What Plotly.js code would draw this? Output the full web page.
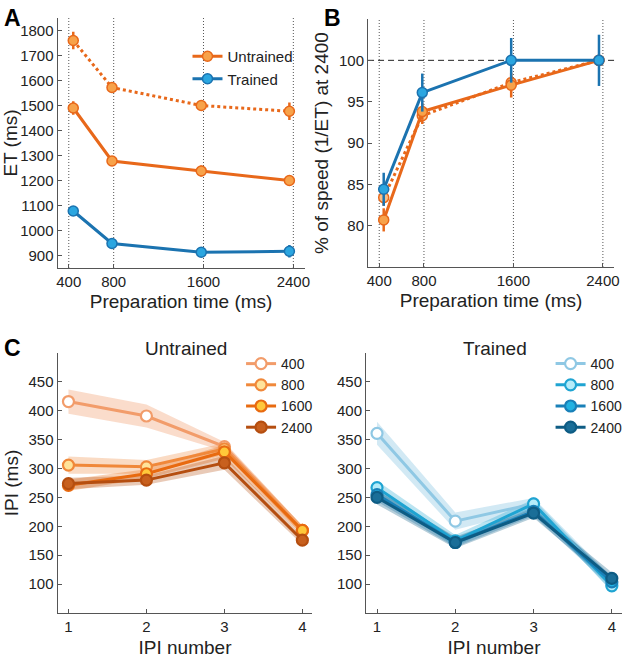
<!DOCTYPE html>
<html>
<head>
<meta charset="utf-8">
<script src="https://cdn.plot.ly/plotly-3.0.1.min.js"></script>
<style>html,body{margin:0;padding:0;background:#fff;}#plot{width:628px;height:661px;}</style>
</head>
<body>
<div id="plot"></div>
<script>
// ---------- DATA ----------
const prepTicks = [400, 800, 1600, 2400];
const prepTimeActual = [440, 785, 1580, 2365];

const etUntrainedDotted = [1760, 1572, 1500, 1477];
const etUntrainedDottedErr = [35, 15, 10, 35];
const etUntrained = [1490, 1278, 1238, 1200];
const etUntrainedErr = [27, 15, 22, 12];
const etTrained = [1078, 948, 913, 917];
const etTrainedErr = [18, 12, 12, 25];

const pctUntrainedDotted = [83.4, 93.3, 97.3, 100];
const pctUntrainedDottedErr = [1.0, 1.0, 0.8, 0];
const pctUntrained = [80.7, 93.8, 97.0, 100];
const pctUntrainedErr = [1.4, 1.0, 1.5, 0];
const pctTrained = [84.4, 96.1, 100, 100];
const pctTrainedErr = [2.0, 2.3, 2.7, 3.1];

const ipiNumber = [1, 2, 3, 4];
const prepLabels = ['400', '800', '1600', '2400'];
const ipiUntrained = [
  [416, 391, 338, 193],
  [306, 303, 334, 193],
  [271, 291, 329, 193],
  [274, 280, 310, 176]
];
const ipiUntrainedSE = [
  [21, 20, 8, 8],
  [15, 12, 10, 8],
  [10, 8, 12, 8],
  [10, 8, 12, 8]
];
const ipiTrained = [
  [361, 209, 239, 100],
  [267, 175, 239, 97],
  [255, 172, 226, 104],
  [250, 172, 223, 110]
];
const ipiTrainedSE = [
  [20, 15, 10, 12],
  [12, 10, 8, 10],
  [12, 8, 8, 10],
  [12, 10, 8, 10]
];

// ---------- STYLE ----------
const FONT = 'Liberation Sans, Arial, Helvetica, sans-serif';
const TICK_SIZE = 15, TITLE_SIZE = 19;
const ORANGE = '#E8681A', ORANGE_FILL = '#F7A24A';
const BLUE = '#1B73B0', BLUE_FILL = '#2BA6E0';
const untrainedLine = ['#F29C6A', '#F0883A', '#E86A10', '#B54E10'];
const untrainedFill = ['#FFFFFF', '#FFE39A', '#FFC83A', '#C8601E'];
const untrainedBand = ['rgba(242,156,106,0.35)', 'rgba(240,136,58,0.3)', 'rgba(232,106,16,0.3)', 'rgba(181,78,16,0.3)'];
const trainedLine = ['#8FC8E4', '#1FA4D2', '#1980B8', '#0E5C84'];
const trainedFill = ['#FFFFFF', '#B5ECFA', '#22B2E2', '#1A6E98'];
const trainedBand = ['rgba(143,200,228,0.4)', 'rgba(31,164,210,0.3)', 'rgba(25,128,184,0.3)', 'rgba(14,92,132,0.3)'];

const traces = [];

function errTrace(x, y, err, color, fill, dash, xa, ya, name, legend, showlegend) {
  return {
    x: x, y: y, xaxis: xa, yaxis: ya, name: name, type: 'scatter', mode: 'lines+markers',
    line: {color: color, width: 3, dash: dash},
    marker: {size: 10, color: fill, line: {color: color, width: 1.5}},
    error_y: {type: 'data', array: err, visible: true, color: color, thickness: 2.5, width: 0},
    showlegend: showlegend, legend: legend
  };
}

// Panel A
traces.push(errTrace(prepTimeActual, etUntrainedDotted, etUntrainedDottedErr, ORANGE, ORANGE_FILL, 'dot', 'x', 'y', 'Untrained dotted', 'legend', false));
traces.push(errTrace(prepTimeActual, etUntrained, etUntrainedErr, ORANGE, ORANGE_FILL, 'solid', 'x', 'y', 'Untrained', 'legend', true));
traces.push(errTrace(prepTimeActual, etTrained, etTrainedErr, BLUE, BLUE_FILL, 'solid', 'x', 'y', 'Trained', 'legend', true));

// Panel B
traces.push(errTrace(prepTimeActual, pctUntrainedDotted, pctUntrainedDottedErr, ORANGE, '#F8C08A', 'dot', 'x2', 'y2', 'Untrained dotted', 'legend', false));
traces.push(errTrace(prepTimeActual, pctUntrained, pctUntrainedErr, ORANGE, ORANGE_FILL, 'solid', 'x2', 'y2', 'Untrained', 'legend', false));
traces.push(errTrace(prepTimeActual, pctTrained, pctTrainedErr, BLUE, BLUE_FILL, 'solid', 'x2', 'y2', 'Trained', 'legend', false));

// Panel C
function bands(data, se, colors, xa, ya) {
  data.forEach(function (vals, i) {
    const up = vals.map(function (v, k) { return v + se[i][k]; });
    const lo = vals.map(function (v, k) { return v - se[i][k]; });
    traces.push({
      x: ipiNumber.concat(ipiNumber.slice().reverse()),
      y: up.concat(lo.slice().reverse()),
      xaxis: xa, yaxis: ya, type: 'scatter', mode: 'lines', fill: 'toself',
      fillcolor: colors[i], line: {width: 0}, hoverinfo: 'skip', showlegend: false
    });
  });
}
function lines(data, lineColors, fillColors, xa, ya, legend) {
  data.forEach(function (vals, i) {
    traces.push({
      x: ipiNumber, y: vals, xaxis: xa, yaxis: ya, name: prepLabels[i], type: 'scatter',
      mode: 'lines+markers',
      line: {color: lineColors[i], width: 3},
      marker: {size: 11, color: fillColors[i], line: {color: lineColors[i], width: 2.2}},
      legend: legend, showlegend: true
    });
  });
}
bands(ipiUntrained, ipiUntrainedSE, untrainedBand, 'x3', 'y3');
lines(ipiUntrained, untrainedLine, untrainedFill, 'x3', 'y3', 'legend2');
bands(ipiTrained, ipiTrainedSE, trainedBand, 'x4', 'y4');
lines(ipiTrained, trainedLine, trainedFill, 'x4', 'y4', 'legend3');

// ---------- LAYOUT ----------
const W = 628, H = 661;
function dx(a, b) { return [a / W, b / W]; }
function dy(top, bottom) { return [1 - bottom / H, 1 - top / H]; }

function axisBase(extra) {
  return Object.assign({
    showline: true, linecolor: '#555', linewidth: 1, mirror: false,
    ticks: 'inside', ticklen: 4, tickcolor: '#555', tickwidth: 1,
    showgrid: false, zeroline: false,
    tickfont: {family: FONT, size: TICK_SIZE, color: '#222'}
  }, extra);
}
function ttl(text, standoff) {
  return {text: text, standoff: standoff, font: {family: FONT, size: TITLE_SIZE, color: '#222'}};
}

const layout = {
  width: W, height: H,
  margin: {l: 0, r: 0, t: 0, b: 0},
  paper_bgcolor: '#fff', plot_bgcolor: '#fff',
  font: {family: FONT, color: '#222'},
  xaxis: axisBase({domain: dx(58, 307), anchor: 'y', range: [300, 2500], tickvals: prepTicks, title: ttl('Preparation time (ms)', 5)}),
  yaxis: axisBase({domain: dy(18, 268), anchor: 'x', range: [850, 1850], tickvals: [900, 1000, 1100, 1200, 1300, 1400, 1500, 1600, 1700, 1800], title: ttl('ET (ms)', 2)}),
  xaxis2: axisBase({domain: dx(371, 619), anchor: 'y2', range: [300, 2500], tickvals: prepTicks, title: ttl('Preparation time (ms)', 5)}),
  yaxis2: axisBase({domain: dy(19, 267), anchor: 'x2', range: [75, 105], tickvals: [80, 85, 90, 95, 100], title: ttl('% of speed (1/ET) at 2400', 5)}),
  xaxis3: axisBase({domain: dx(58, 315), anchor: 'y3', range: [0.86, 4.13], tickvals: ipiNumber, title: ttl('IPI number', 6)}),
  yaxis3: axisBase({domain: dy(353, 613), anchor: 'x3', range: [50, 500], tickvals: [100, 150, 200, 250, 300, 350, 400, 450], title: ttl('IPI (ms)', 4)}),
  xaxis4: axisBase({domain: dx(369, 627), anchor: 'y4', range: [0.86, 4.13], tickvals: ipiNumber, title: ttl('IPI number', 6)}),
  yaxis4: axisBase({domain: dy(353, 613), anchor: 'x4', range: [50, 500], tickvals: [100, 150, 200, 250, 300, 350, 400, 450]}),
  legend: {x: 189 / W, y: 1 - 40 / H, xanchor: 'left', yanchor: 'top', bgcolor: 'rgba(0,0,0,0)',
    font: {family: FONT, size: 15, color: '#222'}, tracegroupgap: 0, itemwidth: 30},
  legend2: {x: 243 / W, y: 1 - 348 / H, xanchor: 'left', yanchor: 'top', bgcolor: 'rgba(0,0,0,0)',
    font: {family: FONT, size: 14, color: '#222'}, tracegroupgap: 0, itemwidth: 30},
  legend3: {x: 555 / W, y: 1 - 348 / H, xanchor: 'left', yanchor: 'top', bgcolor: 'rgba(0,0,0,0)',
    font: {family: FONT, size: 14, color: '#222'}, tracegroupgap: 0, itemwidth: 30},
  shapes: [],
  annotations: [
    {text: '<b>A</b>', x: 2 / W, y: 1 - 3 / H, xref: 'paper', yref: 'paper', xanchor: 'left', yanchor: 'top', showarrow: false, font: {family: FONT, size: 23, color: '#000'}},
    {text: '<b>B</b>', x: 325 / W, y: 1 - 3 / H, xref: 'paper', yref: 'paper', xanchor: 'left', yanchor: 'top', showarrow: false, font: {family: FONT, size: 23, color: '#000'}},
    {text: '<b>C</b>', x: 2 / W, y: 1 - 333 / H, xref: 'paper', yref: 'paper', xanchor: 'left', yanchor: 'top', showarrow: false, font: {family: FONT, size: 23, color: '#000'}},
    {text: 'Untrained', x: 187 / W, y: 1 - 348 / H, xref: 'paper', yref: 'paper', xanchor: 'center', yanchor: 'middle', showarrow: false, font: {family: FONT, size: TITLE_SIZE, color: '#222'}},
    {text: 'Trained', x: 499 / W, y: 1 - 348 / H, xref: 'paper', yref: 'paper', xanchor: 'center', yanchor: 'middle', showarrow: false, font: {family: FONT, size: TITLE_SIZE, color: '#222'}}
  ]
};

// dotted reference lines at the nominal preparation times
[['x', 'y domain'], ['x2', 'y2 domain']].forEach(function (r) {
  prepTicks.forEach(function (t) {
    layout.shapes.push({type: 'line', xref: r[0], yref: r[1], x0: t, x1: t, y0: 0, y1: 1,
      line: {color: '#555', width: 1, dash: '1px,2px'}, layer: 'below'});
  });
});
layout.shapes.push({type: 'line', xref: 'x2 domain', yref: 'y2', x0: 0, x1: 1, y0: 100, y1: 100,
  line: {color: '#222', width: 1, dash: '6px,4px'}, layer: 'below'});

Plotly.newPlot('plot', traces, layout, {displayModeBar: false, staticPlot: true});
</script>
</body>
</html>
